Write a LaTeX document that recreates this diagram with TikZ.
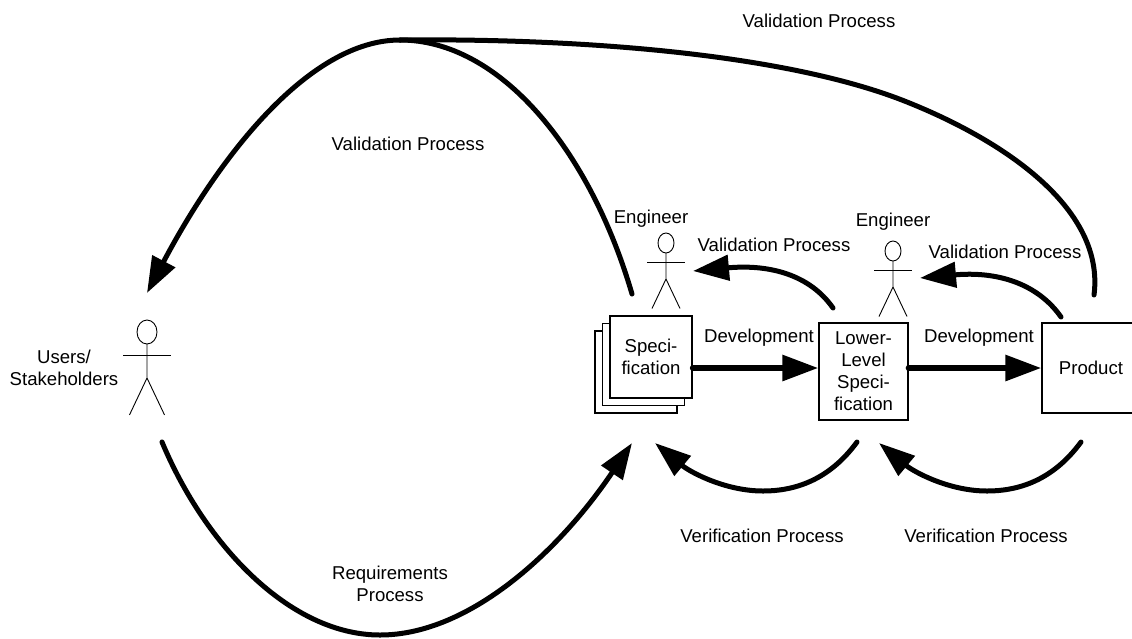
\documentclass[tikz,border=0pt]{standalone}
\usepackage{fontspec}
\setmainfont{Liberation Sans}
\usetikzlibrary{arrows.meta}
\tikzset{
  flow/.style={line width=5pt,line cap=round,-{Triangle[length=36pt,width=25pt]}},
  devflow/.style={line width=6pt,line cap=round,-{Triangle[length=36pt,width=25pt]}},
  plain/.style={line width=5pt,line cap=round},
  doc/.style={draw,line width=1.6pt,fill=white,minimum width=82pt,minimum height=82pt,align=center,inner sep=0pt},
  box/.style={draw,line width=1.3pt,fill=white,align=center,inner sep=0pt},
  lab/.style={align=center,inner sep=0pt,font=\fontsize{18.6}{22}\selectfont},
  stick/.style={line width=0.9pt}
}
\newcommand{\actor}[6]{% x, y head centre, rx, ry, scale, body length
  \draw[stick] (#1,#2) ellipse [x radius=#3,y radius=#4];
  \draw[stick] (#1,#2+#4) -- ++(0,#6) coordinate (hip) -- ++(-14*#5,29.5*#5);
  \draw[stick] (hip) -- ++(14*#5,29.5*#5);
  \draw[stick] (#1-19*#5,#2+#4+9.5*#5) -- (#1+19*#5,#2+#4+9.5*#5);
}
\begin{document}
\begin{tikzpicture}[x=1pt,y=-1pt]
\useasboundingbox (0,0) rectangle (1132,638);
% documents
\node[doc] (specc) at (636,372) {};
\node[doc] (specb) at (643.5,364.5) {};
\node[doc,font=\fontsize{18.6}{22}\selectfont] (spec) at (651,357) {Speci-\\fication};
\node[box,minimum width=89pt,minimum height=97pt,font=\fontsize{18.6}{22}\selectfont] (lower) at (863.5,371.5) {Lower-\\Level\\Speci-\\fication};
\node[box,minimum width=98pt,minimum height=90pt,font=\fontsize{18.6}{22}\selectfont] (product) at (1091,368) {Product};
% actors
\actor{147}{332}{10}{12}{1.25}{34}
\actor{666}{243}{8}{10}{1}{26}
\actor{893}{251}{8}{10}{1}{26}
% labels
\node[lab] (l1) at (819,21) {Validation Process};
\node[lab] (l2) at (408,144) {Validation Process};
\node[lab] (l3) at (774,245) {Validation Process};
\node[lab] (l4) at (1005,252) {Validation Process};
\node[lab] (e1) at (651,219) {Engineer};
\node[lab] (e2) at (893,222) {Engineer};
\node[lab] (u) at (64,368) {Users/\\Stakeholders};
\node[lab] (d1) at (759,338) {Development};
\node[lab] (d2) at (979,338) {Development};
\node[lab] (v1) at (762,536) {Verification Process};
\node[lab] (v2) at (986,536) {Verification Process};
\node[lab] (r) at (390,584) {Requirements\\Process};
% free ends
\coordinate (top) at (400,40);
\coordinate (pm) at (907,102);
\coordinate (vs) at (632,294);
\coordinate (ps) at (1094,295);
\coordinate (ut) at (147,293);
\coordinate (us) at (162,442);
\coordinate (um) at (380,635);
\coordinate (st) at (632,443);
\coordinate (a1) at (833,308);
\coordinate (t1) at (693,271);
\coordinate (a2) at (1061,317);
\coordinate (t2) at (920,278);
\coordinate (b1) at (857,442);
\coordinate (m1) at (763,491);
\coordinate (c1) at (655,443);
\coordinate (b2) at (1081,442);
\coordinate (m2) at (987,491);
\coordinate (c2) at (879,443);
% connectors
\draw[devflow] (spec.east |- 0,368) -- (lower.west |- 0,368);
\draw[devflow] (lower.east |- 0,368) -- (product.west |- 0,368);
\draw[plain] (vs) .. controls (590,150) and (500,40) .. (top);
\draw[plain] (ps) .. controls (1105,210) and (1007,142) .. (pm) .. controls (795,57) and (600,38) .. (top);
\draw[flow] (top) .. controls (310,40) and (220,155) .. (ut);
\draw[flow] (us) .. controls (205,545) and (290,635) .. (um) .. controls (470,635) and (560,550) .. (st);
\draw[flow] (a1) .. controls (810,275) and (770,264) .. (t1);
\draw[flow] (a2) .. controls (1038,284) and (998,271) .. (t2);
\draw[flow] (b1) .. controls (835,472) and (805,491) .. (m1) .. controls (725,491) and (690,472) .. (c1);
\draw[flow] (b2) .. controls (1059,472) and (1029,491) .. (m2) .. controls (949,491) and (914,472) .. (c2);
\end{tikzpicture}
\end{document}
